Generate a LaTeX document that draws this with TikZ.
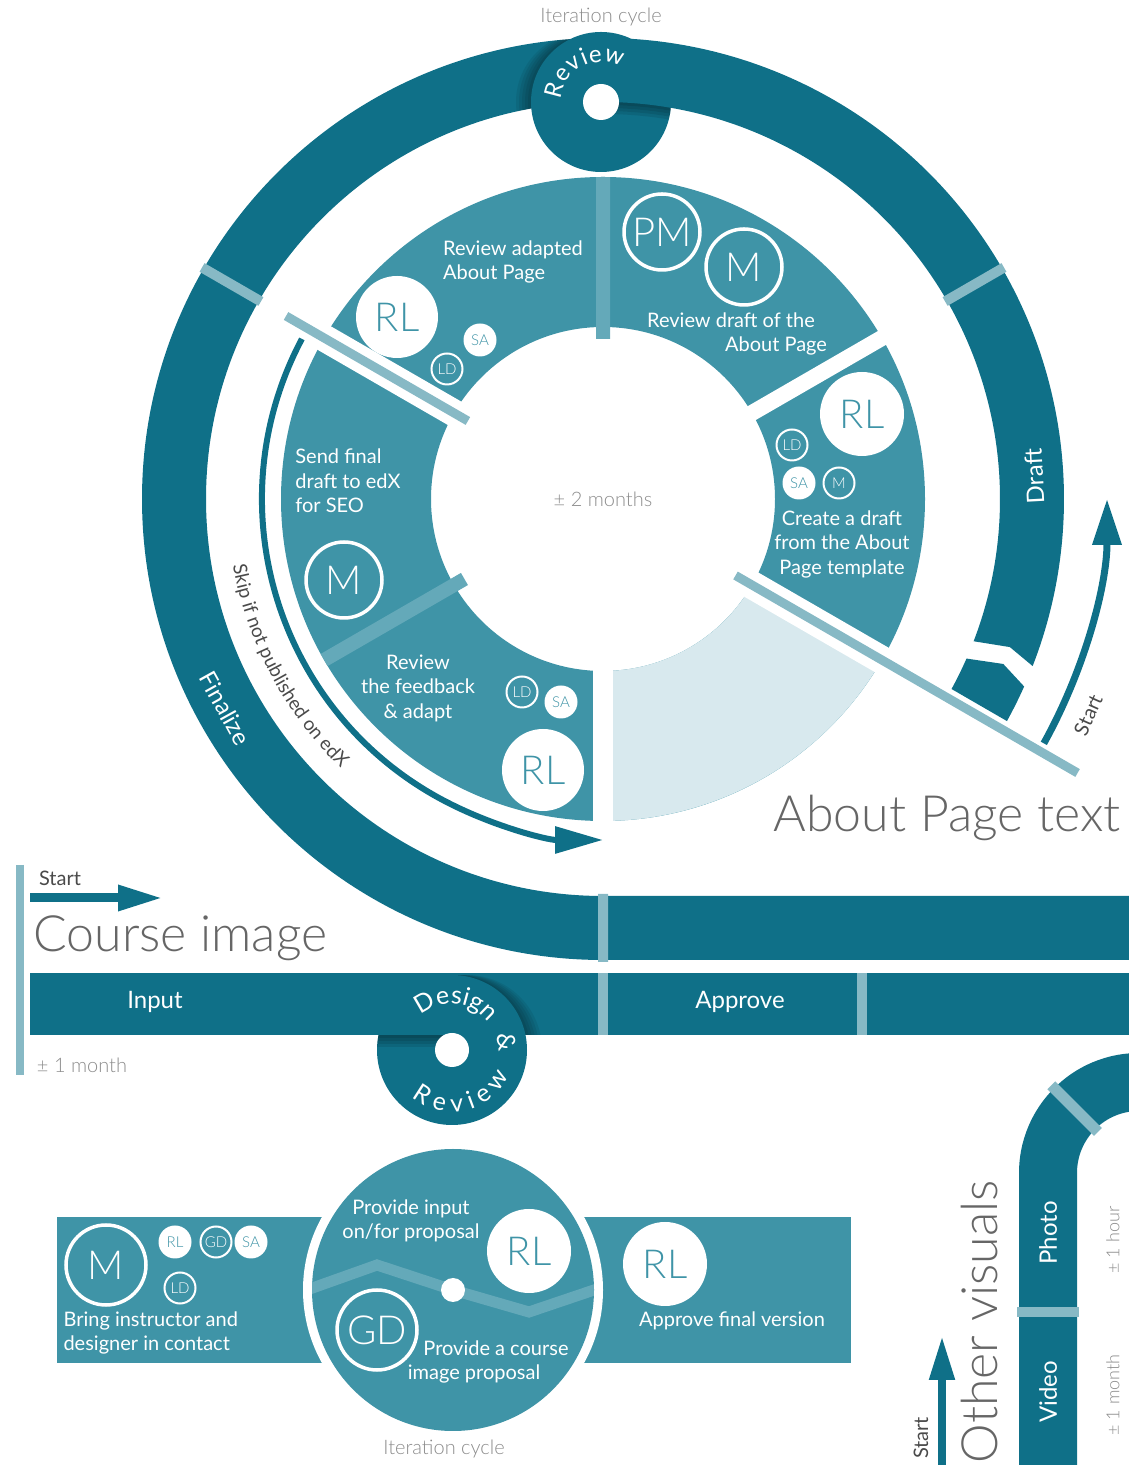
\documentclass[tikz,border=0pt]{standalone}
\usepackage{fontspec}
\setmainfont{Lato}
\IfFontExistsTF{Lato Light}{\newfontfamily\lightfont{Lato Light}}{\newfontfamily\lightfont{Lato}}
\usetikzlibrary{arrows.meta,decorations.text}

\definecolor{ringc}{HTML}{0F7088}
\definecolor{segc}{HTML}{3F94A7}
\definecolor{stripec}{HTML}{64A9B9}
\definecolor{linec}{HTML}{87B9C5}
\definecolor{palec}{HTML}{D8E9EE}
\definecolor{greyc}{HTML}{8C8C8C}
\definecolor{titlec}{HTML}{666666}
\definecolor{darkgreyc}{HTML}{4A4A4A}

\newcommand{\fnt}[2]{\fontsize{#1}{#2}\selectfont}

\tikzset{
  bigfill/.style={circle, fill=white, text=segc, inner sep=0pt, minimum size=82pt, font=\lightfont\fnt{40}{42}},
  smallfill/.style={circle, fill=white, text=segc, inner sep=0pt, minimum size=33pt, font=\lightfont\fnt{15}{16}},
  bigring/.style={circle, draw=white, line width=3.5pt, text=white, inner sep=0pt, minimum size=76pt, font=\lightfont\fnt{40}{42}},
  smallring/.style={circle, draw=white, line width=2pt, text=white, inner sep=0pt, minimum size=31pt, font=\lightfont\fnt{15}{16}},
  steptext/.style={text=white, font=\fnt{20}{24.5}},
  greynote/.style={text=greyc, font=\lightfont\fnt{20}{24}},
  bigtitle/.style={text=titlec, font=\lightfont\fnt{50}{56}},
  bandlabel/.style={text=white, font=\fnt{24}{28}},
  startlabel/.style={text=darkgreyc, font=\fnt{20}{24}},
}

\begin{document}
\begin{tikzpicture}[x=1pt, y=1pt]
  \useasboundingbox (0,0) rectangle (1129,1465);

  % about page: outer ring and inner cycle
  \begin{scope}[shift={(603,966)}]
    \fill[ringc] (90:461) arc[start angle=90, end angle=270, radius=461]
      -- (526,-461) -- (526,-397) -- (270:397)
      arc[start angle=270, end angle=90, radius=397] -- cycle;
    \begin{scope}
      \clip (90:461) arc[start angle=90, end angle=180, radius=461]
        -- (180:397) arc[start angle=180, end angle=90, radius=397] -- cycle;
      \foreach \d in {3,6,...,15}
        \fill[black, opacity=0.07] ([xshift=-\d pt]-2,397) circle[radius=70];
    \end{scope}
    \fill[ringc] (-2,397) circle[radius=70];
    \begin{scope}
      \clip (-2,397) circle[radius=70];
      \foreach \d in {3,6,9,12}
        \fill[black, opacity=0.09, yshift=-\d pt] (20:397)
          arc[start angle=20, end angle=90, radius=397] -- (90:461)
          arc[start angle=90, end angle=20, radius=461] -- cycle;
    \end{scope}
    \fill[ringc] (-21:397) -- (-20:433) -- (-21.25:461)
      arc[start angle=-21.25, end angle=90, radius=461] -- (90:397)
      arc[start angle=90, end angle=-21, radius=397] -- cycle;
    \fill[ringc] (-23.7:397) -- (-22.4:433) -- (-24:461)
      arc[start angle=-24, end angle=-28.8, radius=461] -- (-28.6:397)
      arc[start angle=-28.6, end angle=-23.7, radius=397] -- cycle;
    \draw[linec, line width=10pt] (30:395) -- (30:463) (150:395) -- (150:463) (0,-395) -- (0,-463);
    \fill[white] (-2,397) circle[radius=18];
    \path[decorate, decoration={text along path, text color=white, text align=fit to path,
      text={|\fnt{24}{24}|Review}}] (-2,397) ++(176:40) arc[start angle=176, end angle=60, radius=40];

    \fill[segc, even odd rule] (0,0) circle[radius=322] (0,0) circle[radius=172];
    \fill[palec] (270:172) arc[start angle=270, end angle=330, radius=172] -- (330:322)
      arc[start angle=330, end angle=270, radius=322] -- cycle;
    \begin{scope}
      \clip (0,0) circle[radius=322];
      \draw[stripec, line width=14pt] (90:160) -- (90:330) (210:160) -- (210:330);
    \end{scope}
    \draw[white, line width=16pt] (30:160) -- (30:330);
    \draw[white, line width=27pt] (150:160) -- (150:330);
    \draw[white, line width=20pt] (270:160) -- (270:330);
    \draw[white, line width=28pt] (330:160) -- (330:330);
    \draw[linec, line width=9pt] (150:156) -- (150:366) (330:153) -- (330:548);

    \coordinate (skipA) at (152:341);
    \coordinate (startA) at (-29:504);
    \draw[ringc, line width=6pt, -{Triangle[length=48pt, width=26pt]}] (skipA)
      arc[start angle=152, end angle=270, radius=341];
    \draw[ringc, line width=7pt, -{Triangle[length=46pt, width=28pt]}] (startA)
      arc[start angle=-29, end angle=0, radius=504];
    \path[decorate, decoration={text along path, text color=darkgreyc, text align=center,
      text={|\fnt{19}{19}|Skip if not published on edX}}] (184:376) arc[start angle=184, end angle=232, radius=376];

    \node[bandlabel, rotate=93] (draft) at (3:432) {Draft};
    \node[bandlabel, rotate=-61] (finalize) at (209:432) {Finalize};
    \node[startlabel, rotate=66] (startdraft) at (-24:531) {Start};
    \node[greynote] (twomonths) at (0,0) {± 2 months};
  \end{scope}

  \node[greynote] (itertop) at (601,1448) {Iteration cycle};
  \node[steptext, align=left] (revadapted) at (513,1203) {Review adapted\\About Page};
  \node[bigfill] (rlA) at (397,1148) {RL};
  \node[smallfill] (saA) at (480,1125) {SA};
  \node[smallring] (ldA) at (447,1096) {LD};
  \node[bigring] (pmB) at (662,1233) {PM};
  \node[bigring] (mB) at (744,1198) {M};
  \node[steptext, align=center] (revdraft) at (731,1131) {Review draft of the\\\hspace*{90pt}About Page};
  \node[bigfill, minimum size=84pt] (rlC) at (862,1051) {RL};
  \node[smallring] (ldC) at (792,1020) {LD};
  \node[smallfill] (saC) at (799,982) {SA};
  \node[smallring] (mC) at (839,982) {M};
  \node[steptext, align=center] (createdraft) at (842,921) {Create a draft\\from the About\\Page template};
  \node[steptext, align=left] (sendfinal) at (348,984) {Send final\\draft to edX\\for SEO};
  \node[bigring] (mD) at (344,885) {M};
  \node[steptext, align=center] (revfeedback) at (418,777) {Review\\the feedback\\\& adapt};
  \node[smallring] (ldE) at (522,773) {LD};
  \node[smallfill] (saE) at (561,763) {SA};
  \node[bigfill] (rlE) at (543,695) {RL};
  \node[bigtitle, anchor=east] (aboutpage) at (1124,647) {About Page text};

  % course image
  \coordinate (barTop) at (20,600);
  \coordinate (barBot) at (20,390);
  \draw[linec, line width=8pt] (barTop) -- (barBot);
  \node[startlabel] (startimg) at (60,587) {Start};
  \coordinate (arrA) at (30,567);
  \coordinate (arrB) at (163,567);
  \draw[ringc, line width=9pt, -{Triangle[length=45pt, width=24pt]}] (arrA) -- (arrB);
  \node[bigtitle, anchor=base west] (courseimg) at (30,513) {Course image};
  \node[greynote] (onemonth) at (82,400) {± 1 month};

  \fill[ringc] (452,430) rectangle (1129,492);
  \begin{scope}
    \clip (452,430) rectangle (1129,492);
    \foreach \d in {3,6,...,15}
      \fill[black, opacity=0.07] ([xshift=\d pt]452,415) circle[radius=75];
  \end{scope}
  \fill[ringc] (452,415) circle[radius=75];
  \begin{scope}
    \clip (452,415) circle[radius=75];
    \foreach \d in {3,6,9,12}
      \fill[black, opacity=0.09] (30,{430-\d}) rectangle (452,{492-\d});
  \end{scope}
  \fill[ringc] (30,430) rectangle (452,492);
  \draw[linec, line width=10pt] (603,430) -- (603,492) (862,430) -- (862,492);
  \fill[white] (452,415) circle[radius=17];
  \node[bandlabel] (input) at (155,463) {Input};
  \node[bandlabel] (approve) at (740,463) {Approve};
  \path[decorate, decoration={text along path, text color=white, text align=fit to path,
    text={|\fnt{25}{25}|Design}}] (452,415) ++(132:46) arc[start angle=132, end angle=38, radius=46];
  \node[text=white, font=\fnt{25}{25}, rotate=-81] (amp) at ([shift={(8:55)}]452,415) {\&};
  \path[decorate, decoration={text along path, text color=white, text align=fit to path,
    text={|\fnt{25}{25}|Review}}] (452,415) ++(230:62) arc[start angle=230, end angle=336, radius=62];

  \fill[segc] (57,102) rectangle (330,248);
  \fill[segc] (580,102) rectangle (851,248);
  \fill[white] (453,175) circle[radius=150];
  \fill[segc] (453,175) circle[radius=141];
  \begin{scope}
    \clip (453,175) circle[radius=141];
    \draw[stripec, line width=11pt] (290,169) -- (377,200) -- (453,175) -- (529,153) -- (594,175) -- (620,184);
  \end{scope}
  \fill[white] (453,175) circle[radius=12];
  \node[bigring, minimum size=80pt] (mF) at (106,200) {M};
  \node[smallfill] (rlF) at (175,223) {RL};
  \node[smallring] (gdF) at (216,223) {GD};
  \node[smallfill] (saF) at (251,223) {SA};
  \node[smallring] (ldF) at (180,177) {LD};
  \node[steptext, align=left, anchor=west] (bring) at (60,132) {Bring instructor and\\designer in contact};
  \node[steptext, align=center] (provinput) at (411,244) {Provide input\\on/for proposal};
  \node[bigfill, minimum size=84pt] (rlG) at (529,214) {RL};
  \node[bigring, minimum size=80pt] (gdG) at (377,135) {GD};
  \node[steptext, align=center] (provcourse) at (496,103) {Provide a course\\image proposal\hspace*{44pt}};
  \node[bigfill, minimum size=84pt] (rlH) at (665,201) {RL};
  \node[steptext] (approvefinal) at (732,144) {Approve final version};
  \node[greynote] (iterbottom) at (444,16) {Iteration cycle};

  % other visuals
  \fill[ringc] (1019,0) -- (1019,292) arc[start angle=180, end angle=90, radius=120]
    -- (1139,354) arc[start angle=90, end angle=180, radius=62] -- (1077,0) -- cycle;
  \draw[linec, line width=11pt] ([shift={(135:58)}]1139,292) -- ([shift={(135:124)}]1139,292);
  \draw[linec, line width=10pt] (1017,153) -- (1079,153);
  \node[bandlabel, rotate=90] (photo) at (1048,232) {Photo};
  \node[bandlabel, rotate=90] (video) at (1048,73) {Video};
  \node[greynote, font=\lightfont\fnt{18}{20}, rotate=90] (onehour) at (1113,225) {± 1 hour};
  \node[greynote, font=\lightfont\fnt{18}{20}, rotate=90] (onemonthB) at (1113,70) {± 1 month};
  \node[bigtitle, rotate=90] (othervis) at (980,143) {Other visuals};
  \node[startlabel, rotate=90] (startvis) at (921,27) {Start};
  \coordinate (ovTail) at (942,0);
  \coordinate (ovTip) at (942,129);
  \draw[ringc, line width=8pt, -{Triangle[length=44pt, width=24pt]}] (ovTail) -- (ovTip);
\end{tikzpicture}
\end{document}
